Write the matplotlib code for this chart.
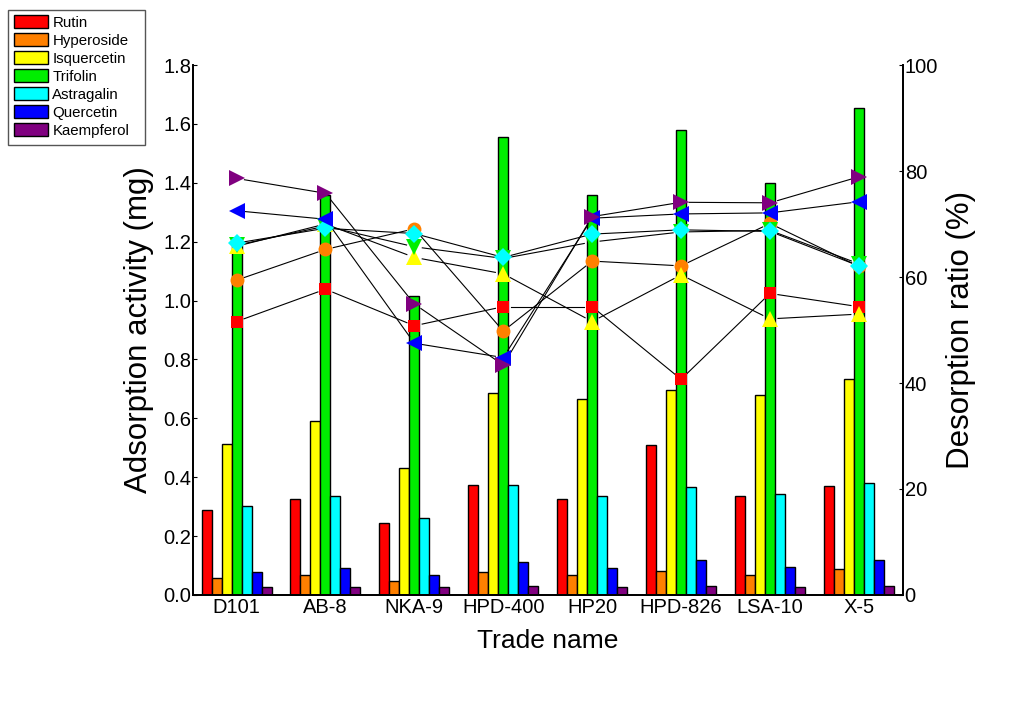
import numpy as np
import matplotlib.pyplot as plt
from matplotlib.patches import Patch, Rectangle

plt.rcParams['font.family'] = ['Liberation Sans', 'DejaVu Sans']

resins = ['D101', 'AB-8', 'NKA-9', 'HPD-400', 'HP20', 'HPD-826', 'LSA-10', 'X-5']
compounds = ['Rutin', 'Hyperoside', 'Isquercetin', 'Trifolin',
             'Astragalin', 'Quercetin', 'Kaempferol']

# adsorption activity (mg) per resin
rutin_ads = [0.290, 0.327, 0.244, 0.372, 0.326, 0.511, 0.335, 0.371]
hyperoside_ads = [0.059, 0.067, 0.048, 0.078, 0.067, 0.083, 0.068, 0.088]
isquercetin_ads = [0.514, 0.590, 0.431, 0.685, 0.665, 0.696, 0.680, 0.733]
trifolin_ads = [1.190, 1.360, 1.017, 1.554, 1.360, 1.578, 1.398, 1.653]
astragalin_ads = [0.301, 0.335, 0.261, 0.372, 0.335, 0.368, 0.343, 0.381]
quercetin_ads = [0.077, 0.091, 0.068, 0.112, 0.093, 0.118, 0.095, 0.118]
kaempferol_ads = [0.026, 0.028, 0.026, 0.031, 0.028, 0.031, 0.028, 0.032]

# desorption ratio (%) per resin
rutin_des = [51.6, 57.7, 50.8, 54.4, 54.4, 40.7, 56.9, 54.4]
hyperoside_des = [59.4, 65.2, 69.1, 49.8, 63.0, 62.1, 70.1, 62.0]
isquercetin_des = [65.8, 70.0, 63.7, 60.6, 51.6, 60.4, 52.1, 53.0]
trifolin_des = [66.0, 69.6, 65.7, 63.5, 66.6, 68.5, 68.8, 62.5]
astragalin_des = [66.4, 69.2, 68.2, 63.7, 68.1, 68.9, 68.6, 62.1]
quercetin_des = [72.5, 70.9, 47.5, 44.8, 71.1, 71.9, 72.1, 74.2]
kaempferol_des = [78.6, 75.8, 54.9, 43.4, 71.4, 74.1, 74.0, 78.9]

ads = [rutin_ads, hyperoside_ads, isquercetin_ads, trifolin_ads,
       astragalin_ads, quercetin_ads, kaempferol_ads]
des = [rutin_des, hyperoside_des, isquercetin_des, trifolin_des,
       astragalin_des, quercetin_des, kaempferol_des]

colors = ['#FF0000', '#FF8000', '#FFFF00', '#00EE00', '#00FFFF', '#0000FF', '#800080']
markers = ['s', 'o', '^', 'v', 'D', '<', '>']
msizes = [9, 10, 11, 11, 9, 11, 11]

fig = plt.figure(figsize=(10.32, 7.09), dpi=100)
ax = fig.add_axes([0.187, 0.1608, 0.8753 - 0.187, 0.9083 - 0.1608])
ax2 = ax.twinx()

x = np.arange(len(resins))
w = 0.1125
for i, vals in enumerate(ads):
    ax.bar(x + (i - 3) * w, vals, width=w, color=colors[i],
           edgecolor='black', linewidth=1.0, zorder=2)

ax.set_xlim(-0.49, 7.5)
ax.set_ylim(0, 1.8)
ax2.set_ylim(0, 100)
ax.set_yticks(np.arange(0, 1.81, 0.2))
ax.set_yticklabels([f'{v:.1f}' for v in np.arange(0, 1.81, 0.2)])
ax2.set_yticks(np.arange(0, 101, 20))
ax.set_xticks(x)
ax.set_xticklabels(resins)

for a in (ax, ax2):
    a.spines['top'].set_visible(False)
    for s in a.spines.values():
        s.set_linewidth(1.3)
ax.tick_params(axis='x', length=0, labelsize=14.5, pad=2)
ax.tick_params(axis='y', direction='in', length=3, labelsize=14.5, pad=1)
ax2.tick_params(axis='y', direction='in', length=3, labelsize=14.5, pad=1)

ax.set_xlabel('Trade name', fontsize=19, labelpad=9)
ax.set_ylabel('Adsorption activity (mg)', fontsize=22.5, labelpad=7)
ax2.set_ylabel('Desorption ratio (%)', fontsize=22.5, labelpad=6)


def gap_line(axis, xs, ys, gap=8):
    # connect neighbouring points, leaving a small gap around each symbol
    pts = axis.transData.transform(np.column_stack([xs, ys]))
    inv = axis.transData.inverted()
    for p0, p1 in zip(pts[:-1], pts[1:]):
        d = p1 - p0
        u = d / np.hypot(*d)
        seg = inv.transform([p0 + u * gap, p1 - u * gap])
        axis.plot(seg[:, 0], seg[:, 1], color='black', lw=0.8, zorder=3)


for i, vals in enumerate(des):
    gap_line(ax2, x, vals)
for i, vals in enumerate(des):
    ax2.plot(x, vals, linestyle='none', marker=markers[i], markersize=msizes[i],
             color=colors[i], markeredgewidth=0, zorder=4)

# legend entries without frame, plus a separate box around them
handles = [Patch(facecolor=c, edgecolor='black', linewidth=1.0) for c in colors]
fig.legend(handles, compounds, loc='upper left',
           bbox_to_anchor=(14 / 1032, 1 - 15 / 709), fontsize=10.8,
           handlelength=2.25, handleheight=0.95, handletextpad=0.3,
           labelspacing=0.23, borderpad=0, borderaxespad=0, frameon=False)
fig.patches.append(Rectangle((8 / 1032, 1 - 145 / 709), 137 / 1032, 135 / 709,
                             transform=fig.transFigure, fill=False,
                             edgecolor='#555555', linewidth=1.0))

fig.savefig('out.png', dpi=100)
